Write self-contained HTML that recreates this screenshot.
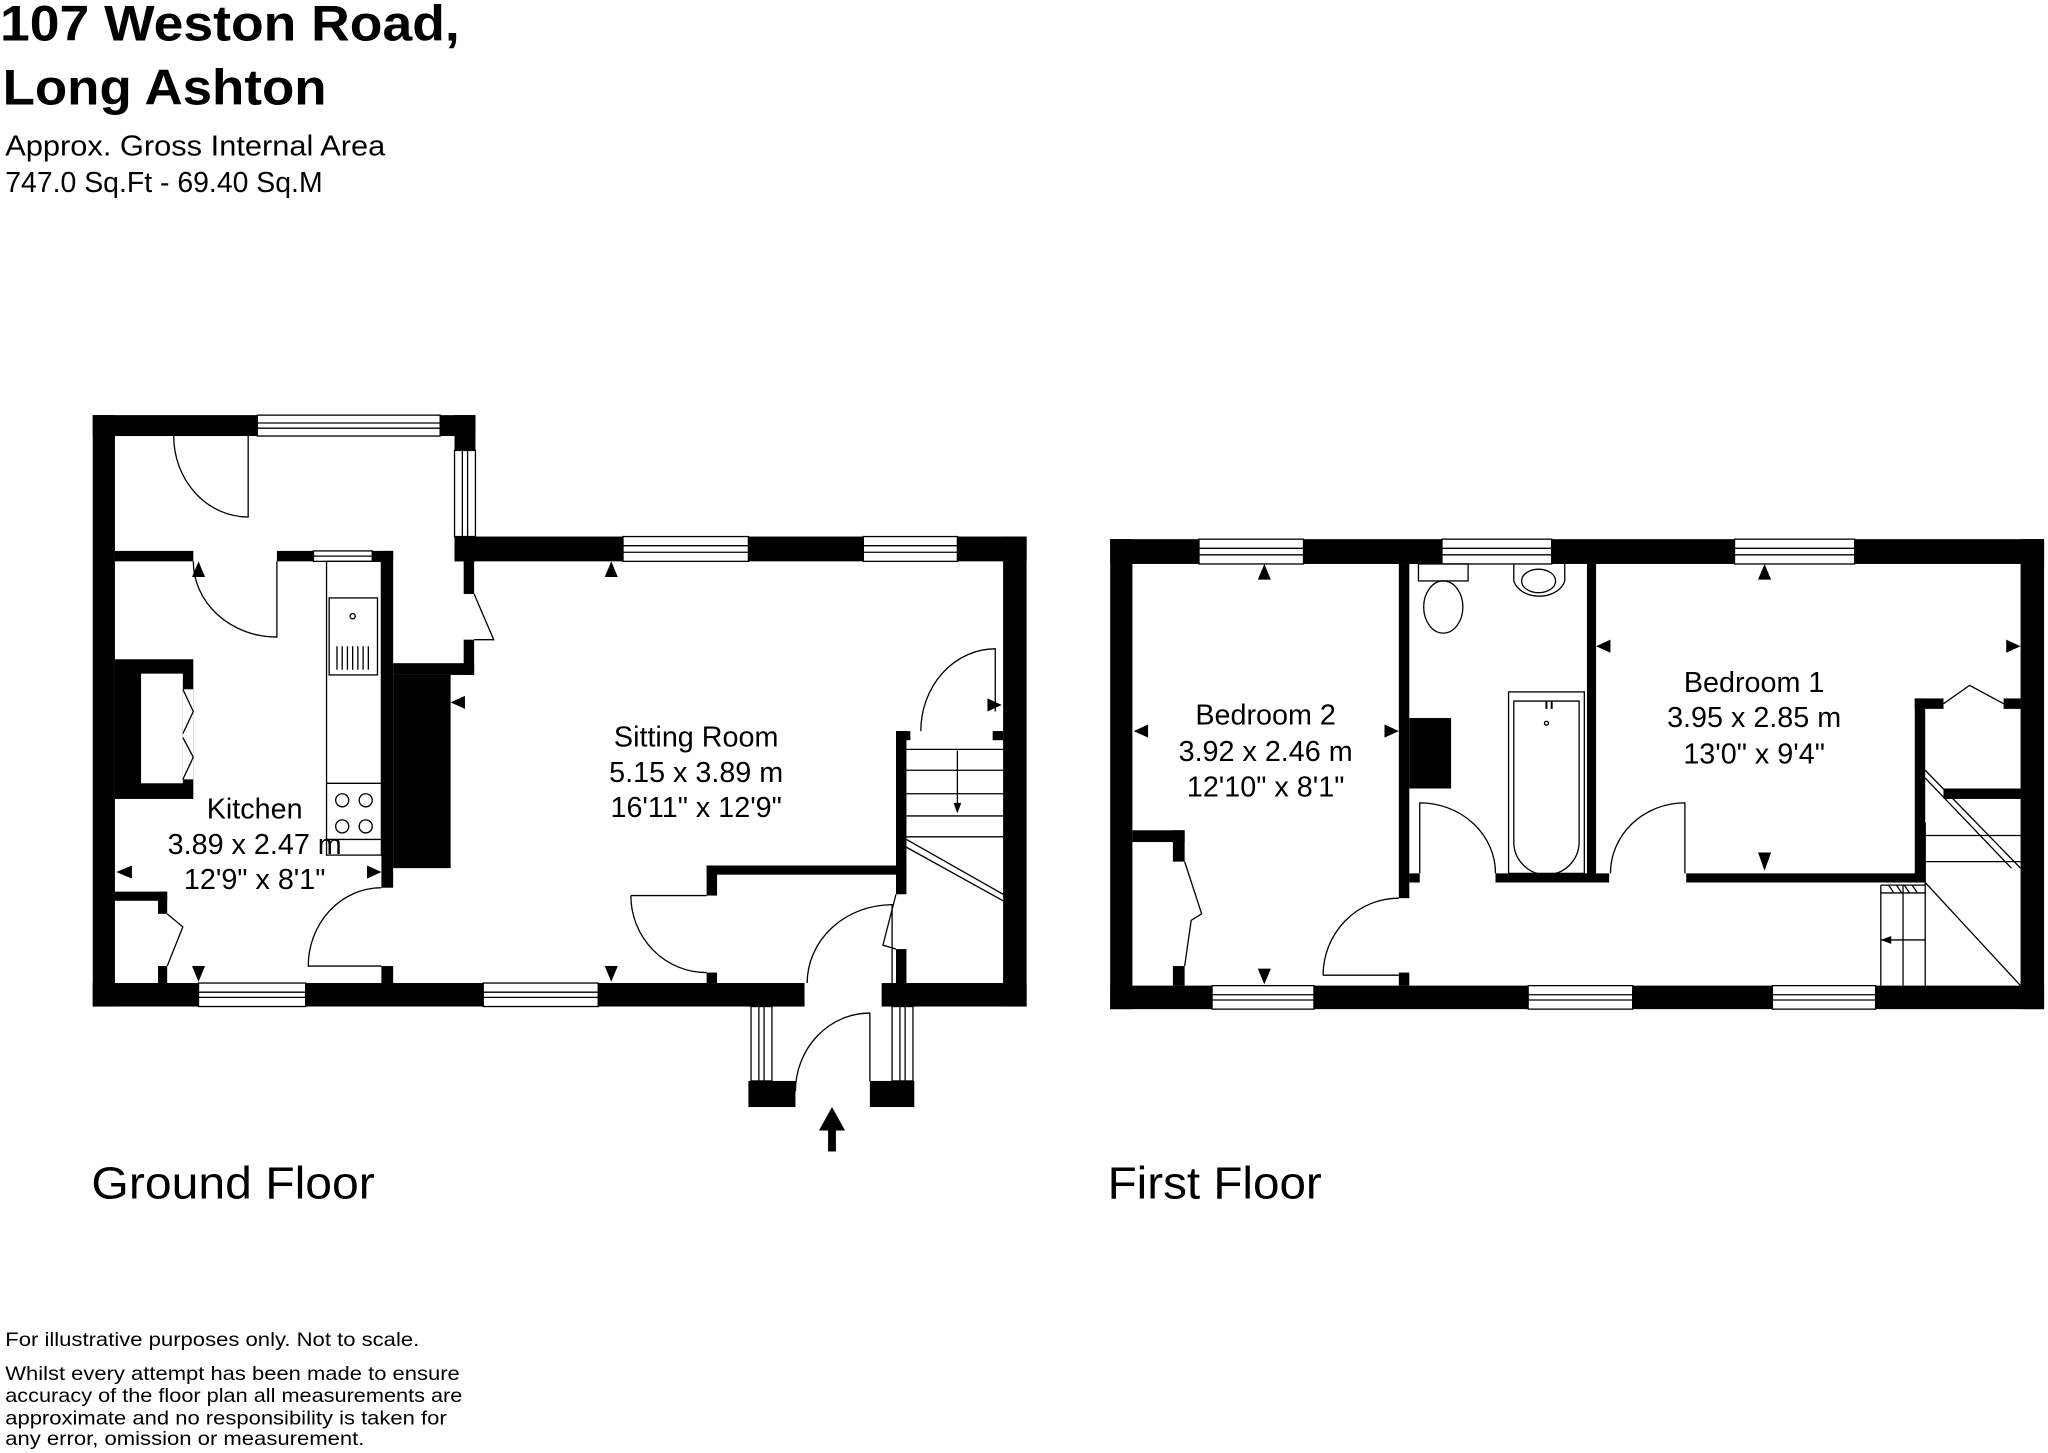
<!DOCTYPE html>
<html><head><meta charset="utf-8"><style>
html,body{margin:0;padding:0;background:#fff;}
svg{display:block}
text{font-family:"Liberation Sans",sans-serif;fill:#000}
</style></head><body>
<svg width="2048" height="1453" viewBox="0 0 1568 1113" preserveAspectRatio="none" xmlns="http://www.w3.org/2000/svg">
<!-- Title -->
<text x="0" y="31" font-size="38" font-weight="bold" textLength="352" lengthAdjust="spacingAndGlyphs">107 Weston Road,</text>
<text x="2" y="80" font-size="38" font-weight="bold" textLength="248" lengthAdjust="spacingAndGlyphs">Long Ashton</text>
<text x="4" y="119" font-size="22" textLength="291" lengthAdjust="spacingAndGlyphs">Approx. Gross Internal Area</text>
<text x="4" y="147" font-size="22" textLength="243" lengthAdjust="spacingAndGlyphs">747.0 Sq.Ft - 69.40 Sq.M</text>

<text x="70" y="918" font-size="35" textLength="217" lengthAdjust="spacingAndGlyphs">Ground Floor</text>
<text x="848" y="918" font-size="35" textLength="164" lengthAdjust="spacingAndGlyphs">First Floor</text>

<g font-size="15">
<text x="4" y="1031" textLength="317" lengthAdjust="spacingAndGlyphs">For illustrative purposes only. Not to scale.</text>
<text x="4" y="1057" textLength="348" lengthAdjust="spacingAndGlyphs">Whilst every attempt has been made to ensure</text>
<text x="4" y="1074" textLength="350" lengthAdjust="spacingAndGlyphs">accuracy of the floor plan all measurements are</text>
<text x="4" y="1091" textLength="338" lengthAdjust="spacingAndGlyphs">approximate and no responsibility is taken for</text>
<text x="4" y="1107" textLength="275" lengthAdjust="spacingAndGlyphs">any error, omission or measurement.</text>
</g>

<!-- ===== GROUND FLOOR ===== -->
<g fill="#000">
<rect x="71" y="318" width="17" height="453"/>
<rect x="71" y="318" width="293" height="16"/>
<rect x="348" y="318" width="16" height="112"/>
<rect x="348" y="411" width="438" height="19"/>
<rect x="768" y="411" width="18" height="360"/>
<rect x="71" y="753" width="715" height="18"/>
<rect x="88" y="422" width="213" height="8"/>
<rect x="292" y="422" width="9" height="258"/>
<rect x="292" y="740" width="9" height="13"/>
<rect x="355" y="430" width="8" height="25"/>
<rect x="355" y="490" width="8" height="27"/>
<rect x="301" y="508" width="62" height="9"/>
<rect x="301" y="517" width="44" height="148"/>
<rect x="88" y="505" width="60" height="107"/>
<rect x="88" y="683" width="40" height="7"/>
<rect x="121" y="683" width="7" height="17"/>
<rect x="121" y="740" width="7" height="13"/>
<rect x="686" y="560" width="8" height="125"/>
<rect x="686" y="727" width="8" height="26"/>
<rect x="686" y="560" width="11" height="7"/>
<rect x="760" y="560" width="8" height="7"/>
<rect x="541" y="663" width="153" height="7"/>
<rect x="541" y="663" width="8" height="23"/>
<rect x="541" y="745" width="8" height="8"/>
<rect x="573" y="762" width="43" height="9"/>
<rect x="675" y="762" width="25" height="9"/>
<rect x="573" y="828" width="36" height="20"/>
<rect x="666" y="828" width="34" height="20"/>
</g>
<g fill="#fff">
<rect x="108" y="516" width="32" height="84"/>
<rect x="140" y="528" width="8" height="69"/>
<rect x="148" y="421" width="64" height="10"/>
<rect x="616" y="752" width="59" height="20"/>
</g>
<!-- windows ground -->
<g fill="#fff" stroke="#000" stroke-width="1">
<rect x="197" y="318" width="140" height="16"/><line x1="197" y1="324" x2="337" y2="324"/><line x1="197" y1="328" x2="337" y2="328"/>
<rect x="348" y="345" width="16" height="66"/><line x1="354" y1="345" x2="354" y2="411"/><line x1="358" y1="345" x2="358" y2="411"/>
<rect x="240" y="422" width="45" height="8"/><line x1="240" y1="426" x2="285" y2="426"/>
<rect x="477" y="411" width="96" height="19"/><line x1="477" y1="418" x2="573" y2="418"/><line x1="477" y1="423" x2="573" y2="423"/>
<rect x="661" y="411" width="72" height="19"/><line x1="661" y1="418" x2="733" y2="418"/><line x1="661" y1="423" x2="733" y2="423"/>
<rect x="152" y="753" width="82" height="18"/><line x1="152" y1="760" x2="234" y2="760"/><line x1="152" y1="764" x2="234" y2="764"/>
<rect x="370" y="753" width="88" height="18"/><line x1="370" y1="760" x2="458" y2="760"/><line x1="370" y1="764" x2="458" y2="764"/>
<rect x="575" y="771" width="16" height="57"/><line x1="581" y1="771" x2="581" y2="828"/><line x1="585" y1="771" x2="585" y2="828"/>
<rect x="683" y="771" width="16" height="57"/><line x1="689" y1="771" x2="689" y2="828"/><line x1="693" y1="771" x2="693" y2="828"/>
</g>
<!-- doors / fixtures ground -->
<g fill="none" stroke="#000" stroke-width="1">
<path d="M133 334 A57 62 0 0 0 190 396 L190 334"/>
<path d="M148 430 A64 58 0 0 0 212 488 L212 430"/>
<path d="M292 680 A56 60 0 0 0 236 740 L292 740"/>
<path d="M363 455 L378 490 L363 490"/>
<path d="M762 545 L762 497 A57 63 0 0 0 705 560"/>
<path d="M483 686 A58 59 0 0 0 541 745"/>
<line x1="483" y1="686" x2="541" y2="686"/>
<path d="M686 685 L676 724 L686 727"/>
<path d="M683 753 L683 693 A65 60 0 0 0 618 753"/>
<path d="M666 828 L666 776 A57 60 0 0 0 609 836"/>
<path d="M140 528 L148 545 L140 562 M140 565 L148 580 L140 597"/>
<path d="M128 700 L140 710 L128 740"/>
<rect x="250" y="430" width="42" height="225"/>
<rect x="252" y="458" width="37" height="59"/>
<circle cx="270" cy="472" r="2"/>
<path d="M258 495 v18 M262 495 v18 M266 495 v18 M270 495 v18 M274 495 v18 M278 495 v18 M282 495 v18"/>
<line x1="250" y1="600" x2="292" y2="600"/>
<circle cx="262" cy="613" r="5"/><circle cx="280" cy="613" r="5"/>
<circle cx="262" cy="633" r="5"/><circle cx="280" cy="633" r="5"/>
<line x1="250" y1="643" x2="292" y2="643"/>
<path d="M694 574 H768 M694 590 H768 M694 608 H768 M694 625 H768 M694 641 H768"/>
<line x1="733" y1="575" x2="733" y2="620"/>
<line x1="694" y1="643" x2="768" y2="685"/>
<line x1="694" y1="649" x2="768" y2="690"/>
</g>
<g fill="#000">
<path d="M730 615 L736 615 L733 623Z"/>
<path d="M147 442 L157 442 L152 430Z"/>
<path d="M101 663 L101 673 L89 668Z"/>
<path d="M281 663 L281 673 L292 668Z"/>
<path d="M147 740 L157 740 L152 752Z"/>
<path d="M463 442 L473 442 L468 430Z"/>
<path d="M356 533 L356 543 L345 538Z"/>
<path d="M463 740 L473 740 L468 752Z"/>
<path d="M756 535 L756 545 L767 540Z"/>
<path d="M627 866 L647 866 L637 848Z"/>
<rect x="634" y="864" width="6" height="18"/>
</g>
<g font-size="22" text-anchor="middle">
<text x="195" y="627">Kitchen</text>
<text x="195" y="654">3.89 x 2.47 m</text>
<text x="195" y="681">12'9" x 8'1"</text>
<text x="533" y="572">Sitting Room</text>
<text x="533" y="599">5.15 x 3.89 m</text>
<text x="533" y="626">16'11" x 12'9"</text>
</g>

<!-- ===== FIRST FLOOR ===== -->
<g fill="#000">
<rect x="850" y="413" width="715" height="19"/>
<rect x="850" y="413" width="17" height="360"/>
<rect x="1547" y="413" width="18" height="360"/>
<rect x="850" y="755" width="715" height="18"/>
<rect x="1071" y="432" width="8" height="256"/>
<rect x="1071" y="745" width="8" height="10"/>
<rect x="1079" y="550" width="32" height="54"/>
<rect x="1215" y="432" width="7" height="244"/>
<rect x="1079" y="669" width="8" height="7"/>
<rect x="1145" y="669" width="87" height="7"/>
<rect x="1291" y="669" width="183" height="7"/>
<rect x="1466" y="535" width="8" height="141"/>
<rect x="1466" y="535" width="22" height="8"/>
<rect x="1534" y="535" width="13" height="8"/>
<rect x="1488" y="604" width="59" height="8"/>
<rect x="867" y="636" width="40" height="9"/>
<rect x="898" y="636" width="9" height="24"/>
<rect x="898" y="740" width="9" height="15"/>
</g>
<g fill="#fff" stroke="#000" stroke-width="1">
<rect x="918" y="413" width="80" height="19"/><line x1="918" y1="420" x2="998" y2="420"/><line x1="918" y1="425" x2="998" y2="425"/>
<rect x="1104" y="413" width="84" height="19"/><line x1="1104" y1="420" x2="1188" y2="420"/><line x1="1104" y1="425" x2="1188" y2="425"/>
<rect x="1328" y="413" width="92" height="19"/><line x1="1328" y1="420" x2="1420" y2="420"/><line x1="1328" y1="425" x2="1420" y2="425"/>
<rect x="928" y="755" width="78" height="18"/><line x1="928" y1="762" x2="1006" y2="762"/><line x1="928" y1="766" x2="1006" y2="766"/>
<rect x="1170" y="755" width="80" height="18"/><line x1="1170" y1="762" x2="1250" y2="762"/><line x1="1170" y1="766" x2="1250" y2="766"/>
<rect x="1357" y="755" width="79" height="18"/><line x1="1357" y1="762" x2="1436" y2="762"/><line x1="1357" y1="766" x2="1436" y2="766"/>
</g>
<g fill="none" stroke="#000" stroke-width="1">
<path d="M1013 747 A58 59 0 0 1 1071 688"/><line x1="1013" y1="747" x2="1071" y2="747"/>
<path d="M1087 669 L1087 615 A58 54 0 0 1 1145 669"/>
<path d="M1290 669 L1290 615 A57 54 0 0 0 1233 669"/>
<path d="M907 660 L920 700 L912 705 L907 740"/>
<path d="M1488 539 L1508 525 L1534 539"/>
<rect x="1086" y="432" width="38" height="13"/>
<ellipse cx="1105" cy="465" rx="15" ry="20"/>
<path d="M1159 432 L1159 445 A20 15 0 0 0 1198 445 L1198 432"/>
<ellipse cx="1178" cy="445" rx="13" ry="9"/>
<rect x="1155" y="530" width="58" height="139"/>
<path d="M1159 537 L1159 645 A20 20 0 0 0 1209 645 L1209 537 Z"/>
<circle cx="1184" cy="554" r="1.5"/>
<path d="M1474 590 L1547 665 M1474 596 L1540 665"/>
<path d="M1474 640 H1547 M1474 660 H1547 M1474 630 V676"/>
<path d="M1440 678 H1474 M1440 684 H1474"/>
<path d="M1440 678 V755 M1457 678 V755 M1474 676 V755"/>
<path d="M1474 676 L1547 755"/>
<path d="M1446 678 L1450 684 M1452 678 L1456 684 M1458 678 L1462 684 M1464 678 L1468 684"/>
<line x1="1440" y1="720" x2="1474" y2="720"/>
</g>
<g fill="#000">
<path d="M1440 720 L1448 717 L1448 723Z"/>
<path d="M1184 537 v6 M1188 537 v6" stroke="#000" stroke-width="1.5"/>
<path d="M963 444 L973 444 L968 432Z"/>
<path d="M879 555 L879 565 L868 560Z"/>
<path d="M1060 555 L1060 565 L1071 560Z"/>
<path d="M963 742 L973 742 L968 754Z"/>
<path d="M1346 444 L1356 444 L1351 432Z"/>
<path d="M1233 490 L1233 500 L1222 495Z"/>
<path d="M1536 490 L1536 500 L1547 495Z"/>
<path d="M1346 653 L1356 653 L1351 667Z"/>
</g>
<g font-size="22" text-anchor="middle">
<text x="969" y="555">Bedroom 2</text>
<text x="969" y="583">3.92 x 2.46 m</text>
<text x="969" y="610">12'10" x 8'1"</text>
<text x="1343" y="530">Bedroom 1</text>
<text x="1343" y="557">3.95 x 2.85 m</text>
<text x="1343" y="585">13'0" x 9'4"</text>
</g>
</svg>
</body></html>
